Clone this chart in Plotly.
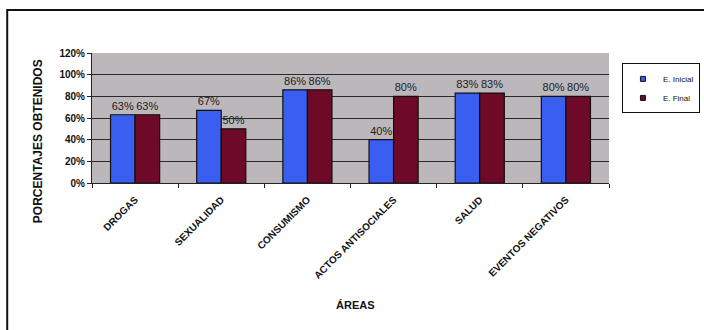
import plotly.graph_objects as go

categories = ["DROGAS", "SEXUALIDAD", "CONSUMISMO", "ACTOS ANTISOCIALES", "SALUD", "EVENTOS NEGATIVOS"]
inicial = [63, 67, 86, 40, 83, 80]
final = [63, 50, 86, 80, 83, 80]
series_names = ["E. Inicial", "E. Final"]
colors = ["#3a5ff0", "#6e0a28"]
y_ticks = [0, 20, 40, 60, 80, 100, 120]
y_ticklabels = ["0%", "20%", "40%", "60%", "80%", "100%", "120%"]

FONT = "Arial, Liberation Sans"
fig = go.Figure()
for name, vals, col in zip(series_names, [inicial, final], colors):
    fig.add_trace(go.Bar(
        x=categories, y=vals, name=name, showlegend=False,
        marker=dict(color=col, line=dict(color="#101010", width=1.2)),
        text=[f"{v}%" for v in vals], textposition="outside", cliponaxis=False,
        textfont=dict(family=FONT, size=11, color="#222"),
    ))
for name, col in zip(series_names, colors):
    fig.add_trace(go.Scatter(
        x=[None], y=[None], mode="markers", name=name,
        marker=dict(symbol="square", size=5, color=col, line=dict(color="#111", width=1)),
    ))

fig.update_layout(
    width=704, height=330,
    margin=dict(l=92, r=95, t=53, b=147, autoexpand=False),
    paper_bgcolor="white", plot_bgcolor="#bbb7bb",
    barmode="group", bargap=0.43, bargroupgap=0,
    font=dict(family=FONT, size=9, color="#111"),
    showlegend=True,
    legend=dict(x=1.025, y=0.92, xanchor="left", yanchor="top",
                bgcolor="white", bordercolor="#111", borderwidth=1,
                font=dict(size=8), tracegroupgap=0, itemwidth=30),
    xaxis=dict(
        tickangle=-45, showline=True, linecolor="#222", linewidth=1,
        ticks="outside", ticklen=4, tickcolor="#222",
        tickson="boundaries", ticklabelstandoff=6,
        tickfont=dict(family=FONT, size=10, color="#111", weight="bold"),
    ),
    yaxis=dict(
        range=[0, 120], tickvals=y_ticks, ticktext=y_ticklabels,
        showgrid=True, gridcolor="#2a2a2a", gridwidth=1,
        showline=True, linecolor="#222", linewidth=1,
        ticks="outside", ticklen=4, tickcolor="#222",
        tickfont=dict(family=FONT, size=10, color="#111", weight="bold"),
        zeroline=False,
    ),
    annotations=[
        dict(text="<b>PORCENTAJES OBTENIDOS</b>", xref="paper", yref="paper",
             x=-0.103, y=0.32, textangle=-90, showarrow=False,
             font=dict(size=12, color="#111"), xanchor="center", yanchor="middle"),
        dict(text="<b>ÁREAS</b>", xref="paper", yref="paper",
             x=0.51, y=-0.94, showarrow=False,
             font=dict(size=11, color="#111"), xanchor="center", yanchor="middle"),
    ],
    shapes=[
        dict(type="rect", xref="paper", yref="paper",
             x0=-0.164, x1=1.5, y0=-1.5, y1=1.331,
             line=dict(color="#111", width=2), fillcolor="rgba(0,0,0,0)", layer="below"),
    ],
)

fig.write_html("out.html")
